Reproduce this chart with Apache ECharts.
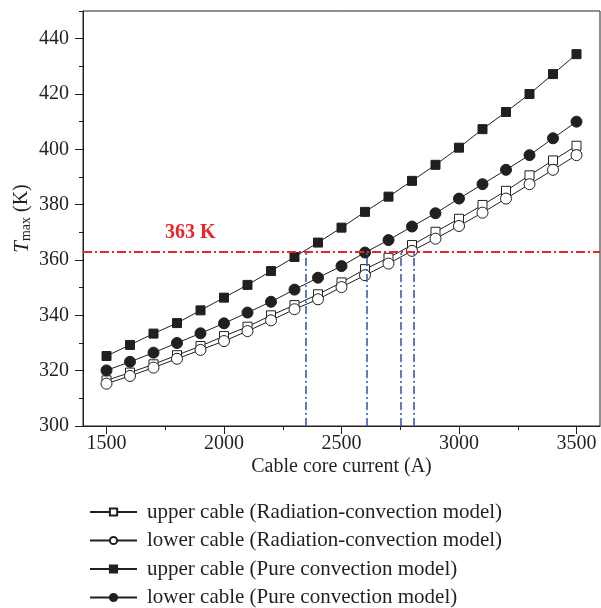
<!DOCTYPE html>
<html>
<head>
<meta charset="utf-8">
<script src="https://cdn.jsdelivr.net/npm/echarts@6/dist/echarts.min.js"></script>
<style>
  html, body { margin: 0; padding: 0; background: #fff; }
  #chart { width: 601px; height: 608px; }
</style>
</head>
<body>
<div id="chart"></div>
<script>
// Cable core current (A)
const currents = [1500, 1600, 1700, 1800, 1900, 2000, 2100, 2200, 2300, 2400, 2500,
                  2600, 2700, 2800, 2900, 3000, 3100, 3200, 3300, 3400, 3500];

// Maximum temperature (K) for each cable / model
const upperRadConv = [316.5, 319.3, 322.3, 325.6, 328.9, 332.5, 335.9, 340.0, 343.7, 347.6, 351.9,
                      356.7, 360.8, 365.4, 370.2, 374.9, 379.9, 385.0, 390.6, 396.0, 401.3];
const lowerRadConv = [315.3, 318.1, 321.1, 324.3, 327.5, 330.7, 334.3, 338.2, 342.2, 345.8, 350.2,
                      354.5, 358.7, 363.3, 367.7, 372.3, 377.1, 382.2, 387.4, 392.6, 397.9];
const upperPureConv = [325.3, 329.3, 333.4, 337.2, 341.8, 346.4, 351.0, 356.0, 361.1, 366.3, 371.7,
                       377.4, 382.9, 388.6, 394.4, 400.6, 407.3, 413.5, 420.0, 427.2, 434.4];
const lowerPureConv = [320.1, 323.2, 326.5, 330.0, 333.5, 337.1, 341.0, 344.9, 349.3, 353.6, 357.8,
                       362.7, 367.2, 372.1, 376.9, 382.2, 387.4, 392.6, 397.9, 404.0, 410.0];

// Axis ticks
const xMajorTicks = [1500, 2000, 2500, 3000, 3500];
const xMinorTicks = [1750, 2250, 2750, 3250];
const yMajorTicks = [300, 320, 340, 360, 380, 400, 420, 440];
const yMinorTicks = [310, 330, 350, 370, 390, 410, 430, 450];

// Temperature limit and the currents at which each curve reaches it
const limitT = 363;
const limitCurrents = [2346, 2606, 2750, 2807];

const seriesNames = [
  'upper cable (Radiation-convection model)',
  'lower cable (Radiation-convection model)',
  'upper cable (Pure convection model)',
  'lower cable (Pure convection model)'
];

const serif = '"Liberation Serif", "DejaVu Serif", serif';
const ink = '#231f20';

function pairs(ys) { return currents.map((x, i) => [x, ys[i]]); }

function lineSeries(name, ys, symbol, filled, size) {
  return {
    name: name,
    type: 'line',
    data: pairs(ys),
    symbol: symbol,
    symbolSize: size,
    showAllSymbol: true,
    lineStyle: { color: ink, width: 1 },
    itemStyle: { color: filled ? ink : '#ffffff', borderColor: ink, borderWidth: 1 },
    emphasis: { disabled: true },
    z: 3
  };
}

const series = [
  lineSeries(seriesNames[0], upperRadConv, 'rect', false, 9),
  lineSeries(seriesNames[1], lowerRadConv, 'circle', false, 11),
  lineSeries(seriesNames[2], upperPureConv, 'rect', true, 9),
  lineSeries(seriesNames[3], lowerPureConv, 'circle', true, 11)
];

series[3].markLine = {
  silent: true,
  symbol: ['none', 'none'],
  animation: false,
  data: [
    {
      yAxis: limitT,
      lineStyle: { color: '#e8262a', width: 1.8, type: [9, 3, 2, 3] },
      label: {
        show: true,
        position: 'insideStartTop',
        distance: [82, 9],
        formatter: '{c} K',
        color: '#e8262a',
        fontFamily: serif,
        fontWeight: 'bold',
        fontSize: 20
      }
    }
  ].concat(limitCurrents.map(c => [
    { coord: [c, 300], lineStyle: { color: '#3a5bb8', width: 1.6, type: [8, 3, 2, 3] }, label: { show: false } },
    { coord: [c, limitT] }
  ]))
};

const hiddenLabels = { show: false };
const plain = v => String(v);

const chart = echarts.init(document.getElementById('chart'), null, { renderer: 'canvas' });
chart.setOption({
  animation: false,
  backgroundColor: '#ffffff',
  grid: {
    left: 83, right: 1, top: 11, bottom: 182,
    show: true, borderColor: ink, borderWidth: 1, backgroundColor: 'transparent'
  },
  xAxis: [
    {
      type: 'value',
      min: 1400, max: 3600, interval: 100,
      name: 'Cable core current (A)',
      nameLocation: 'middle',
      nameGap: 31,
      nameMoveOverlap: false,
      nameTextStyle: { fontFamily: serif, fontSize: 20, color: ink },
      axisLine: { show: true, onZero: false, lineStyle: { color: ink, width: 1 } },
      axisTick: { show: true, length: 8, customValues: xMajorTicks, lineStyle: { color: ink } },
      splitLine: { show: false },
      axisLabel: { fontFamily: serif, fontSize: 20, color: ink, margin: 8, customValues: xMajorTicks, formatter: plain }
    },
    {
      type: 'value',
      position: 'bottom',
      min: 1400, max: 3600, interval: 100,
      axisLine: { show: false, onZero: false },
      axisTick: { show: true, length: 4, customValues: xMinorTicks, lineStyle: { color: ink } },
      splitLine: { show: false },
      axisLabel: hiddenLabels
    }
  ],
  yAxis: [
    {
      type: 'value',
      min: 300, max: 450, interval: 10,
      name: '{i|T}{s|max} (K)',
      nameLocation: 'middle',
      nameGap: 50,
      nameMoveOverlap: false,
      nameTextStyle: {
        fontFamily: serif, fontSize: 20, color: ink,
        rich: {
          i: { fontFamily: serif, fontSize: 21, fontStyle: 'italic', color: ink },
          s: { fontFamily: serif, fontSize: 14, color: ink, verticalAlign: 'bottom', padding: [8, 0, 0, 0] }
        }
      },
      axisLine: { show: true, onZero: false, lineStyle: { color: ink, width: 1 } },
      axisTick: { show: true, length: 8, customValues: yMajorTicks, lineStyle: { color: ink } },
      splitLine: { show: false },
      axisLabel: { fontFamily: serif, fontSize: 20, color: ink, margin: 14, customValues: yMajorTicks, formatter: plain }
    },
    {
      type: 'value',
      position: 'left',
      min: 300, max: 450, interval: 10,
      axisLine: { show: false, onZero: false },
      axisTick: { show: true, length: 4, customValues: yMinorTicks, lineStyle: { color: ink } },
      splitLine: { show: false },
      axisLabel: hiddenLabels
    }
  ],
  legend: {
    data: seriesNames,
    orient: 'vertical',
    left: 89, top: 501,
    height: 130,
    padding: 0,
    itemWidth: 47, itemHeight: 9, itemGap: 6.5,
    selectedMode: false,
    textStyle: { fontFamily: serif, fontSize: 21, color: ink, lineHeight: 22, padding: [0, 0, 0, 5] }
  },
  series: series
});
</script>
</body>
</html>
